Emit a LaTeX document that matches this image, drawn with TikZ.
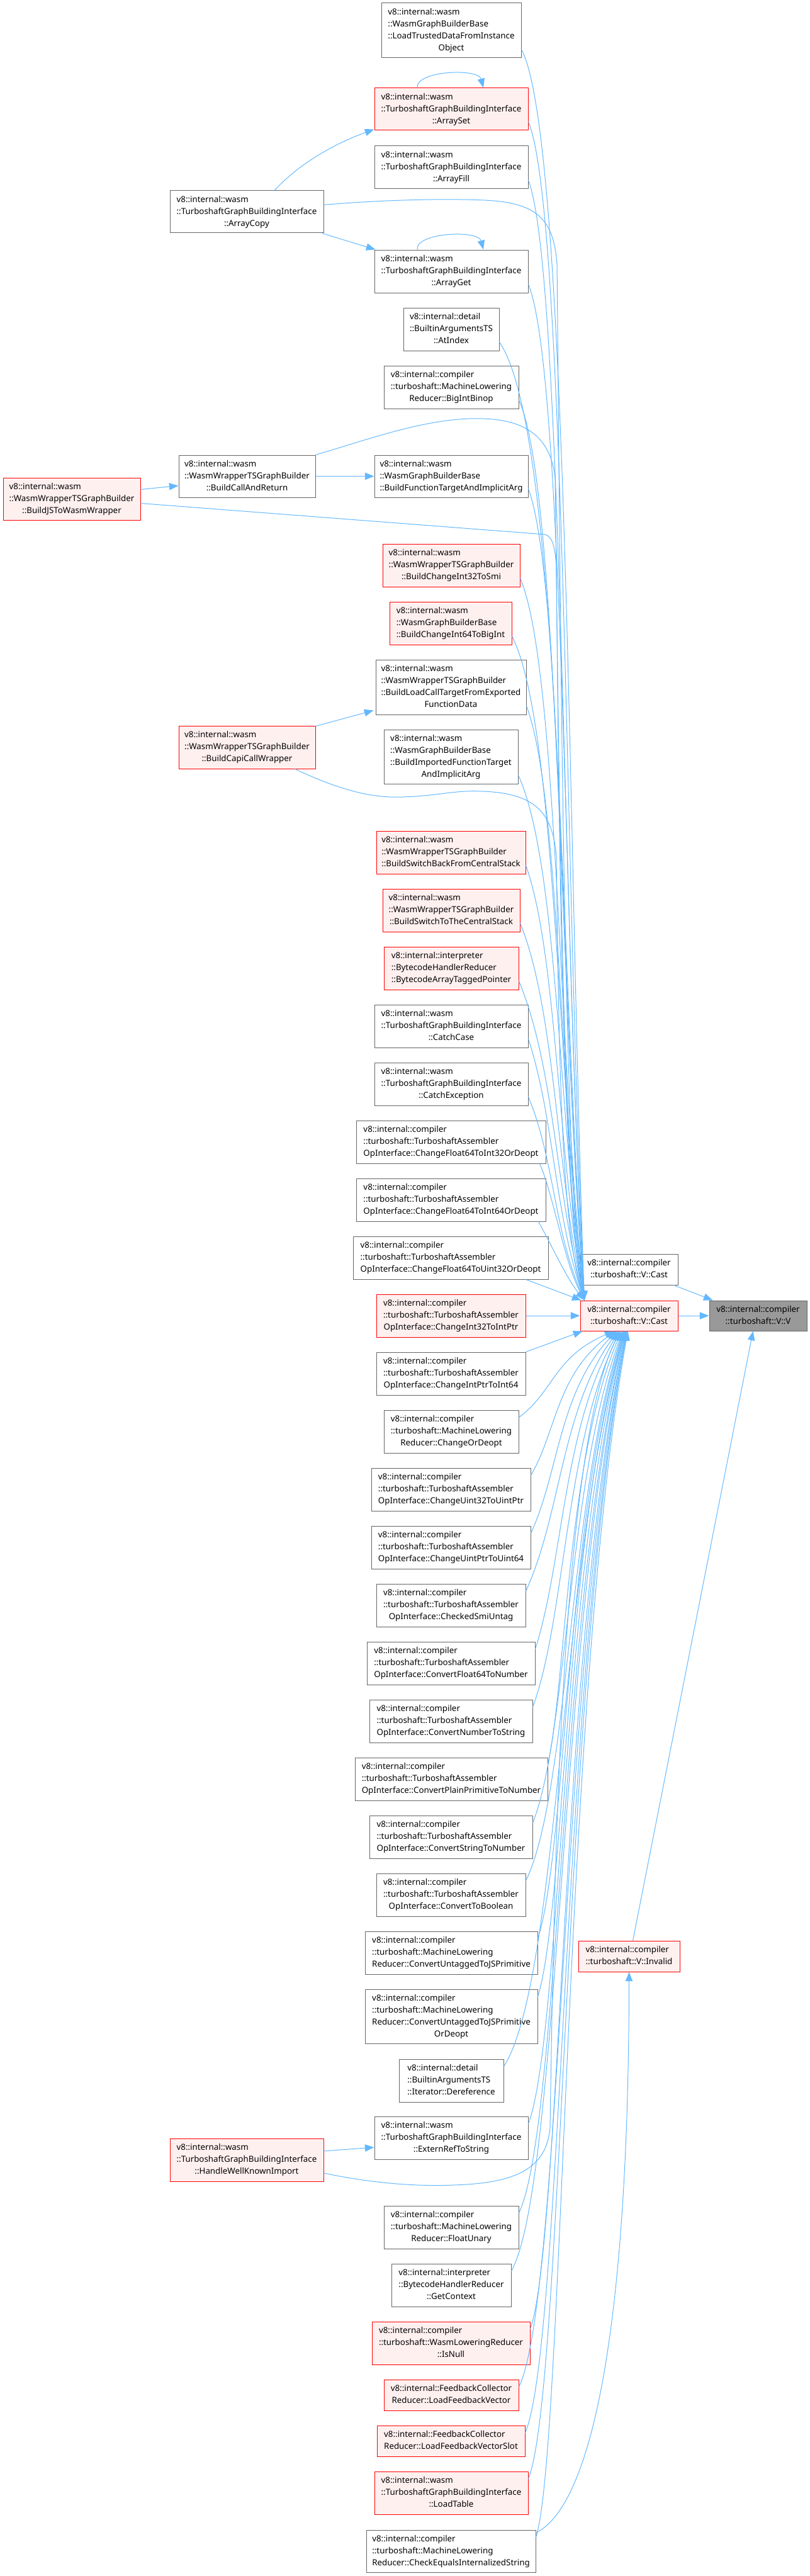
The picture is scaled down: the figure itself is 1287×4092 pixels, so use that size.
\documentclass[tikz,border=0pt]{standalone}
\usepackage{fontspec}
\setmainfont{Noto Sans}
\usetikzlibrary{arrows.meta,calc}
\definecolor{edgec}{HTML}{63B8FF}
\definecolor{redb}{HTML}{FF0000}
\definecolor{redf}{HTML}{FFF0F0}
\definecolor{grayb}{HTML}{666666}
\definecolor{grayf}{HTML}{999999}
\tikzset{
 box/.style={draw=grayb, fill=white, line width=0.75pt, inner sep=0pt, font=\fontsize{10}{14.25}\selectfont},
 redbox/.style={box, draw=redb, fill=redf},
 graybox/.style={box, fill=grayf},
 edge/.style={draw=edgec, line width=0.75pt, -{Triangle[length=11pt,width=8.5pt]}},
}
\newcommand\tx[2]{\begin{tabular}{@{}l@{}}#1\\\multicolumn{1}{@{}c@{}}{#2}\end{tabular}}
\newcommand\gn[7]{\node[#2, minimum width={(#5-#3)*0.75pt}, minimum height={(#6-#4)*0.75pt}] (#1) at ({(#3+#5)/2},{(#4+#6)/2}) {#7};}
% upper edge: node, bottom y, band x
\newcommand\eTop[3]{%
 \pgfmathsetmacro\sY{#2-14}%
 \pgfmathsetmacro\cA{\sY+min(140,0.3*(2066-\sY))}%
 \pgfmathsetmacro\cB{2066-0.35*(2066-\sY)}%
 \draw[edge] ($(#1.south east)+(0,-14)$) .. controls (#3,\cA) and (#3,\cB) .. ($(ct.north west)+(7,0)$);}
% lower edge: node, top y, band x, end dx
\newcommand\eBot[4]{%
 \pgfmathsetmacro\sY{#2+12}%
 \pgfmathsetmacro\cA{\sY-min(140,0.3*(\sY-2114))}%
 \pgfmathsetmacro\cB{2114+0.3*(\sY-2114)}%
 \draw[edge] ($(#1.north east)+(0,12)$) .. controls (#3,\cA) and (#3,\cB) .. ($(ct.south)+(#4,0)$);}
\begin{document}
\begin{tikzpicture}[x=0.75pt,y=-0.75pt]
\useasboundingbox (0,0) rectangle (1287,4092);
\def\wt{v8::internal::wasm\\::TurboshaftGraphBuildingInterface}
\def\ta{v8::internal::compiler\\::turboshaft::TurboshaftAssembler}
\def\ml{v8::internal::compiler\\::turboshaft::MachineLowering}
\gn{n1}{box}{606}{5}{828}{92}{\tx{v8::internal::wasm\\::WasmGraphBuilderBase\\::LoadTrustedDataFromInstance}{Object}}
\gn{n2}{redbox}{595}{140}{839}{207}{\tx{\wt}{::ArraySet}}
\gn{n3}{box}{595}{232}{839}{300}{\tx{\wt}{::ArrayFill}}
\gn{n4}{box}{270}{303}{514}{370}{\tx{\wt}{::ArrayCopy}}
\gn{n5}{box}{595}{397}{839}{465}{\tx{\wt}{::ArrayGet}}
\gn{n6}{box}{641}{489}{793}{557}{\tx{v8::internal::detail\\::BuiltinArgumentsTS}{::AtIndex}}
\gn{n7}{box}{610}{581}{824}{649}{\tx{\ml}{Reducer::BigIntBinop}}
\gn{n8}{box}{284}{723}{501}{790}{\tx{v8::internal::wasm\\::WasmWrapperTSGraphBuilder}{::BuildCallAndReturn}}
\gn{n9}{box}{595}{723}{839}{790}{\tx{v8::internal::wasm\\::WasmGraphBuilderBase}{::BuildFunctionTargetAndImplicitArg}}
\gn{n10}{redbox}{5}{759}{223}{826}{\tx{v8::internal::wasm\\::WasmWrapperTSGraphBuilder}{::BuildJSToWasmWrapper}}
\gn{n11}{redbox}{608}{864}{826}{932}{\tx{v8::internal::wasm\\::WasmWrapperTSGraphBuilder}{::BuildChangeInt32ToSmi}}
\gn{n12}{redbox}{619}{956}{813}{1024}{\tx{v8::internal::wasm\\::WasmGraphBuilderBase}{::BuildChangeInt64ToBigInt}}
\gn{n13}{box}{597}{1048}{836}{1135}{\tx{v8::internal::wasm\\::WasmWrapperTSGraphBuilder\\::BuildLoadCallTargetFromExported}{FunctionData}}
\gn{n14}{redbox}{284}{1153}{501}{1221}{\tx{v8::internal::wasm\\::WasmWrapperTSGraphBuilder}{::BuildCapiCallWrapper}}
\gn{n15}{box}{610}{1159}{823}{1245}{\tx{v8::internal::wasm\\::WasmGraphBuilderBase\\::BuildImportedFunctionTarget}{AndImplicitArg}}
\gn{n16}{redbox}{598}{1320}{835}{1388}{\tx{v8::internal::wasm\\::WasmWrapperTSGraphBuilder}{::BuildSwitchBackFromCentralStack}}
\gn{n17}{redbox}{608}{1412}{826}{1480}{\tx{v8::internal::wasm\\::WasmWrapperTSGraphBuilder}{::BuildSwitchToTheCentralStack}}
\gn{n18}{redbox}{610}{1504}{824}{1572}{\tx{v8::internal::interpreter\\::BytecodeHandlerReducer}{::BytecodeArrayTaggedPointer}}
\gn{n19}{box}{595}{1596}{839}{1664}{\tx{\wt}{::CatchCase}}
\gn{n20}{box}{595}{1688}{839}{1756}{\tx{\wt}{::CatchException}}
\gn{n21}{box}{566}{1780}{867}{1848}{\tx{\ta}{OpInterface::ChangeFloat64ToInt32OrDeopt}}
\gn{n22}{box}{566}{1872}{867}{1940}{\tx{\ta}{OpInterface::ChangeFloat64ToInt64OrDeopt}}
\gn{n23}{box}{561}{1964}{871}{2032}{\tx{\ta}{OpInterface::ChangeFloat64ToUint32OrDeopt}}
\gn{n24}{redbox}{598}{2056}{835}{2124}{\tx{\ta}{OpInterface::ChangeInt32ToIntPtr}}
\gn{n25}{box}{598}{2148}{835}{2216}{\tx{\ta}{OpInterface::ChangeIntPtrToInt64}}
\gn{n26}{box}{610}{2240}{824}{2308}{\tx{\ml}{Reducer::ChangeOrDeopt}}
\gn{n27}{box}{590}{2332}{843}{2400}{\tx{\ta}{OpInterface::ChangeUint32ToUintPtr}}
\gn{n28}{box}{590}{2424}{843}{2492}{\tx{\ta}{OpInterface::ChangeUintPtrToUint64}}
\gn{n29}{box}{598}{2516}{835}{2584}{\tx{\ta}{OpInterface::CheckedSmiUntag}}
\gn{n30}{box}{583}{2608}{850}{2676}{\tx{\ta}{OpInterface::ConvertFloat64ToNumber}}
\gn{n31}{box}{587}{2700}{846}{2768}{\tx{\ta}{OpInterface::ConvertNumberToString}}
\gn{n32}{box}{564}{2792}{870}{2860}{\tx{\ta}{OpInterface::ConvertPlainPrimitiveToNumber}}
\gn{n33}{box}{587}{2884}{846}{2952}{\tx{\ta}{OpInterface::ConvertStringToNumber}}
\gn{n34}{box}{598}{2976}{835}{3044}{\tx{\ta}{OpInterface::ConvertToBoolean}}
\gn{n35}{box}{580}{3068}{854}{3136}{\tx{\ml}{Reducer::ConvertUntaggedToJSPrimitive}}
\gn{n36}{box}{580}{3160}{854}{3246}{\tx{\ml\\Reducer::ConvertUntaggedToJSPrimitive}{OrDeopt}}
\gn{n37}{box}{634}{3271}{800}{3339}{\tx{v8::internal::detail\\::BuiltinArgumentsTS}{::Iterator::Dereference}}
\gn{n38}{box}{595}{3362}{839}{3430}{\tx{\wt}{::ExternRefToString}}
\gn{n39}{redbox}{270}{3397}{514}{3465}{\tx{\wt}{::HandleWellKnownImport}}
\gn{n40}{box}{610}{3504}{824}{3572}{\tx{\ml}{Reducer::FloatUnary}}
\gn{n41}{box}{622}{3596}{812}{3664}{\tx{v8::internal::interpreter\\::BytecodeHandlerReducer}{::GetContext}}
\gn{n42}{redbox}{591}{3688}{842}{3756}{\tx{v8::internal::compiler\\::turboshaft::WasmLoweringReducer}{::IsNull}}
\gn{n43}{redbox}{610}{3780}{824}{3829}{\tx{v8::internal::FeedbackCollector}{Reducer::LoadFeedbackVector}}
\gn{n44}{redbox}{599}{3853}{834}{3902}{\tx{v8::internal::FeedbackCollector}{Reducer::LoadFeedbackVectorSlot}}
\gn{n45}{redbox}{595}{3926}{839}{3994}{\tx{\wt}{::LoadTable}}
\gn{n46}{box}{582}{4019}{851}{4086}{\tx{\ml}{Reducer::CheckEqualsInternalizedString}}
\gn{cw}{box}{922}{1992}{1077}{2041}{\tx{v8::internal::compiler}{::turboshaft::V::Cast}}
\gn{ct}{redbox}{922}{2066}{1077}{2114}{\tx{v8::internal::compiler}{::turboshaft::V::Cast}}
\gn{vv}{graybox}{1127}{2066}{1282}{2114}{\tx{v8::internal::compiler}{::turboshaft::V::V}}
\gn{inv}{redbox}{919}{3083}{1080}{3132}{\tx{v8::internal::compiler}{::turboshaft::V::Invalid}}
% self loops
\draw[edge] ($(n2.north)+(-54,0)$) .. controls (660,112) and (760,108) .. ($(n2.north)+(51,0)$);
\draw[edge] ($(n5.north)+(-54,0)$) .. controls (660,369) and (760,365) .. ($(n5.north)+(51,0)$);
% left side edges
\draw[edge] ($(n4.north)+(44,0)$) .. controls (480,255) and (540,225) .. ($(n2.south west)+(0,-2)$);
\draw[edge] ($(n4.south east)+(-3,0)$) -- ($(n5.north west)+(2,0)$);
\draw[edge] ($(n4.east)+(0,-11)$) .. controls (600,318) and (700,315) .. (770,318) .. controls (850,322) and (880,345) .. (885,420) .. controls (890,900) and (895,1900) .. ($(ct.north west)+(7,0)$);
\draw[edge] (n8.east) -- (n9.west);
\draw[edge] (n8.north east) .. controls (580,700) and (680,662) .. (767,665) .. controls (830,667) and (875,690) .. (882,760) .. controls (888,1200) and (893,1900) .. ($(ct.north west)+(7,0)$);
\draw[edge] ($(n10.east)+(0,-15)$) -- ($(n8.west)+(0,15)$);
\draw[edge] ($(n10.east)+(0,7)$) -- (866,849) .. controls (878,852) and (882,870) .. (884,900) .. controls (888,1300) and (893,1900) .. ($(ct.north west)+(7,0)$);
\draw[edge] ($(n14.north east)+(0,1)$) -- ($(n13.south west)+(-3,-7)$);
\draw[edge] ($(n14.south east)+(-33,0)$) .. controls (540,1255) and (590,1268) .. (640,1266) .. controls (700,1264) and (720,1255) .. (766,1257) .. controls (850,1260) and (878,1290) .. (884,1360) .. controls (888,1700) and (893,1950) .. ($(ct.north west)+(7,0)$);
\draw[edge] ($(n39.east)+(0,-14)$) -- ($(n38.west)+(0,15)$);
\draw[edge] ($(n39.east)+(0,21)$) .. controls (600,3470) and (670,3473) .. (720,3471) .. controls (820,3468) and (868,3445) .. (874,3380) .. controls (880,3000) and (890,2300) .. ($(ct.south)+(-14,0)$);
% upper callers
\eTop{n1}{92}{903}
\eTop{n2}{207}{898}
\eTop{n3}{300}{893}
\eTop{n5}{465}{896}
\eTop{n6}{557}{890}
\eTop{n7}{649}{888}
\eTop{n9}{790}{892}
\eTop{n11}{932}{886}
\eTop{n12}{1024}{884}
\eTop{n13}{1135}{889}
\eTop{n15}{1245}{887}
\eTop{n16}{1388}{885}
\eTop{n17}{1480}{883}
\eTop{n18}{1572}{882}
\eTop{n19}{1664}{880}
\eTop{n20}{1756}{880}
\draw[edge] ($(n21.south east)+(-10,0)$) .. controls (880,1900) and (895,2000) .. ($(ct.north west)+(7,0)$);
\draw[edge] ($(n22.south east)+(-12,0)$) .. controls (880,1985) and (900,2030) .. ($(ct.north west)+(7,0)$);
\draw[edge] ($(n23.south east)+(-36,0)$) -- ($(ct.north west)+(2,0)$);
\draw[edge] (n24.east) -- (ct.west);
\draw[edge] (n25.north east) -- ($(ct.south west)+(4,0)$);
% lower callers
\eBot{n26}{2240}{880}{-24}
\eBot{n27}{2332}{884}{-22}
\eBot{n28}{2424}{888}{-20}
\eBot{n29}{2516}{892}{-18}
\eBot{n30}{2608}{895}{-16}
\eBot{n31}{2700}{898}{-14}
\eBot{n32}{2792}{900}{-12}
\eBot{n33}{2884}{902}{-10}
\eBot{n34}{2976}{904}{-9}
\eBot{n35}{3068}{900}{-8}
\eBot{n36}{3160}{898}{-7}
\eBot{n37}{3271}{890}{-6}
\eBot{n38}{3362}{892}{-6}
\eBot{n40}{3504}{890}{-5}
\eBot{n41}{3596}{890}{-5}
\eBot{n42}{3688}{892}{-4}
\eBot{n43}{3780}{893}{-4}
\eBot{n44}{3853}{894}{-3}
\eBot{n45}{3926}{895}{-3}
\eBot{n46}{4019}{896}{-2}
\draw[edge] ($(n46.north east)+(0,5)$) .. controls (940,3980) and (999,3700) .. (inv.south);
% right side
\draw[edge] ($(cw.south east)+(-7,0)$) -- ($(vv.north west)+(6,0)$);
\draw[edge] (ct.east) -- (vv.west);
\draw[edge] ($(inv.north)+(6,0)$) -- ($(vv.south)+(-8,0)$);
\end{tikzpicture}
\end{document}
